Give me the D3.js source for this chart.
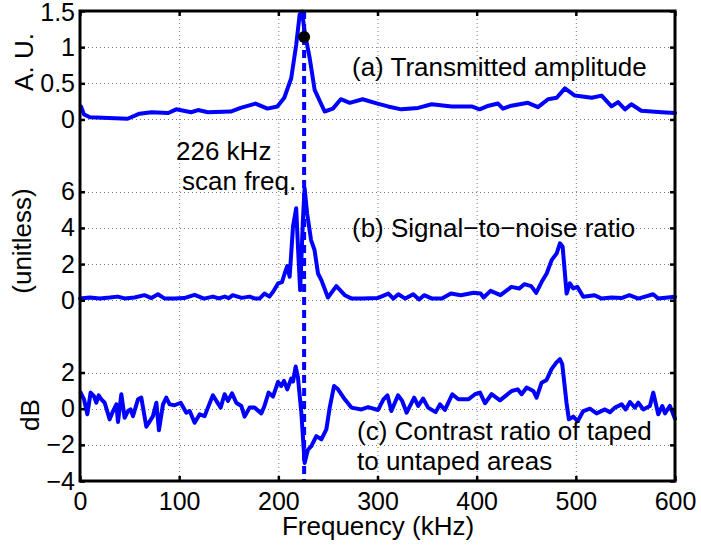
<!DOCTYPE html>
<html><head><meta charset="utf-8">
<script src="https://cdn.jsdelivr.net/npm/d3@7"></script>
<style>
html,body{margin:0;padding:0;background:#fff;}
svg{display:block;font-family:"Liberation Sans",Arial,Helvetica,sans-serif;}
</style></head>
<body><svg id="chart" width="701" height="546"></svg>
<script>
// ---- Data ----
const xTicks = [0, 100, 200, 300, 400, 500, 600];
const ampTicks = [0, 0.5, 1, 1.5];
const snrTicks = [0, 2, 4, 6];
const dbTicks = [-4, -2, 0, 2];
const scanFreq = 226;
const scanAmp = 1.14;

const ampFreq = [1,4,10,48,60,72,89,97,112,119,129,152,162,177,189,199,206,213,218,221.5,224,226.5,231.6,236.6,246.7,255,263,272,285,300,310.6,324,341,354.6,374.8,395,403,412,421.5,426.5,435,451.7,461.8,472,480.7,489,499,516,526,536,542.6,549.6,556,566,586.6,600];
const ampVals = [0.18,0.07,0.03,0.01,0.08,0.10,0.09,0.14,0.10,0.13,0.10,0.11,0.16,0.22,0.15,0.18,0.30,0.57,1.03,1.45,1.49,1.21,0.85,0.41,0.11,0.15,0.28,0.23,0.28,0.22,0.18,0.14,0.16,0.21,0.18,0.18,0.14,0.19,0.22,0.15,0.19,0.23,0.17,0.28,0.30,0.43,0.33,0.30,0.33,0.18,0.24,0.14,0.21,0.12,0.10,0.09];

const snrFreq = [0,10,20,30,38,45,55,65,72,78.6,85,95,105,115.6,125,134,140,146,150,154,163,171,176,181,186,191,194.6,199.7,203.7,206.4,209,211.4,214.8,218,219.8,222,224.8,226.5,229,233,236.5,240,243.4,250,258.5,267,274,285,300,311,316,321,328,336,342,347,355,365,374,384,397,404,407,414,424,435,443,448,455,460,465.6,470.6,475.6,480.7,484,486.7,490.7,494,497.4,501.5,507.5,519,526,536,546,554,563,578,583,600];
const snrVals = [0.09,0.15,0.1,0.15,0.2,0.1,0.15,0.28,0.12,0.33,0.1,0.1,0.12,0.3,0.09,0.2,0.1,0.2,0.12,0.28,0.13,0.2,0.1,0.09,0.37,0.2,0.46,0.93,1.0,1.48,1.89,1.3,4.07,5.09,2.96,0.56,4.44,6.2,4.81,3.33,2.78,1.48,1.11,0.15,0.78,0.28,0.09,0.09,0.12,0.37,0.09,0.33,0.09,0.33,0.04,0.28,0.09,0.09,0.37,0.28,0.41,0.37,0.15,0.52,0.28,0.74,0.65,0.89,0.78,0.41,1.02,1.48,2.22,2.59,3.15,2.96,0.37,0.93,0.65,0.74,0.19,0.28,0.09,0.15,0.12,0.28,0.09,0.33,0.09,0.19];

const dbFreq = [0.7,4,7.4,10.7,14,16.5,18.8,21.5,24.9,29.9,33.3,36.7,38.3,41.7,45,48.4,51,53.4,58.5,61.8,66.9,73.6,77,79.6,83.7,87,90.4,95.4,101.5,107.2,110.6,115.6,120.7,125.7,129,134,141.8,145.8,149.2,153.3,157.6,162.7,166,171,176,182.8,186,190.2,194.6,199.7,203,205.7,209,213,214.8,217.5,219.8,223.2,226.5,229.9,233.3,238.3,243.4,248.4,251.8,256.2,260.2,267,273.7,283.8,290.5,300.6,306,310,314,320.7,324.9,329.4,337,341,346,351,358.6,363,368,375.4,381.5,391.6,398.3,403.4,408.4,415,423.5,435.3,441.3,445.3,450.4,457.1,460.4,465.5,470.5,475.5,480.5,483.9,486.3,490.6,493,497.4,501.8,507.5,514.2,520.9,529.4,534.4,539.4,546.2,550.2,554.6,559.6,563,568,574.7,578.1,583.1,587.2,589.9,594.9,600];
const dbVals = [0.89,0.52,-0.31,0.89,0.70,0.33,0.74,0.52,0.33,-0.59,-0.13,0.24,-0.74,0.80,-0.5,-0.13,-0.04,-0.41,0.52,0.61,-1.0,-0.41,0.33,-1.19,0.24,0.61,0.24,0.19,0.33,-0.22,-0.13,-0.78,-0.31,-0.41,0.06,0.74,0.06,0.8,0.43,0.85,0.33,0.15,-0.44,0.06,0.06,-0.26,0.15,0.89,0.67,1.48,1.26,1.54,1.07,1.67,1.5,2.33,1.72,-0.22,-3.0,-2.26,-2.07,-1.52,-1.7,-1.15,0.06,1.26,1.07,0.52,0.06,-0.04,0.09,-0.07,0.52,0.74,-0.13,0.74,0.43,-0.22,0.61,0.15,0.56,0.06,-0.19,0.24,-0.07,0.8,0.52,0.52,0.8,0.89,0.3,0.8,0.46,0.98,1.07,0.8,1.17,0.98,0.61,1.44,1.59,2.19,2.56,2.74,2.46,0.33,-0.59,-0.44,-0.69,-0.13,0,-0.26,-0.04,-0.2,0.06,0.24,-0.04,0.37,0.06,0.33,-0.04,0.15,0.89,-0.31,0.15,-0.26,0.15,-0.56];

// ---- Layout ----
const W = 701, H = 546;
const L = 80, R = 675, T = 11, B = 481;
const FS = 25;     // tick labels
const FT = 26;     // other texts
const svg = d3.select("#chart");
svg.append("rect").attr("width", W).attr("height", H).attr("fill", "#fff");

const x = d3.scaleLinear().domain([0, 600]).range([L, R]);
// shared stacking scale: 13 grid steps from bottom to top
const yU = d3.scaleLinear().domain([0, 13]).range([B, T]);
const yA = d3.scaleLinear().domain([0, 1.5]).range([yU(10), yU(13)]);
const yB = d3.scaleLinear().domain([0, 6]).range([yU(5), yU(8)]);
const yC = d3.scaleLinear().domain([-4, 2]).range([yU(0), yU(3)]);

const grid = svg.append("g").attr("stroke", "#7a7a7a").attr("stroke-width", 1)
  .attr("stroke-dasharray", "1,3").attr("fill", "none");
xTicks.filter(v => v > 0 && v < 600).forEach(v => {
  grid.append("line").attr("x1", x(v) + 0.5).attr("x2", x(v) + 0.5).attr("y1", T).attr("y2", B);
});
const hGrid = [];
ampTicks.forEach(v => hGrid.push(yA(v)));
snrTicks.forEach(v => hGrid.push(yB(v)));
dbTicks.forEach(v => hGrid.push(yC(v)));
hGrid.filter(py => py > T + 1 && py < B - 1).forEach(py => {
  grid.append("line").attr("x1", L).attr("x2", R).attr("y1", Math.round(py) + 0.5).attr("y2", Math.round(py) + 0.5);
});

// ---- curves ----
function drawLine(freqs, vals, ys) {
  const pts = freqs.map((f, i) => [f, vals[i]]);
  svg.append("path").datum(pts)
    .attr("d", d3.line().x(d => x(d[0])).y(d => ys(d[1])))
    .attr("fill", "none").attr("stroke", "#0000ff").attr("stroke-width", 4)
    .attr("stroke-linejoin", "round").attr("stroke-linecap", "round");
}
drawLine(ampFreq, ampVals, yA);
drawLine(snrFreq, snrVals, yB);
drawLine(dbFreq, dbVals, yC);

svg.append("line").attr("x1", x(scanFreq)).attr("x2", x(scanFreq))
  .attr("y1", T).attr("y2", B)
  .attr("stroke", "#0000ff").attr("stroke-width", 4).attr("stroke-dasharray", "8,5");
svg.append("circle").attr("cx", x(scanFreq)).attr("cy", yA(scanAmp)).attr("r", 6).attr("fill", "#000");

// ---- axes ----
function styleAxis(g) {
  g.select(".domain").remove();
  g.selectAll(".tick line").attr("stroke", "#000").attr("stroke-width", 2.5);
  g.selectAll(".tick text").attr("fill", "#000").style("font-size", FS + "px")
    .style("font-family", '"Liberation Sans",Arial,Helvetica,sans-serif');
}
const fmt = d3.format("~g");
[[yA, ampTicks], [yB, snrTicks], [yC, dbTicks]].forEach(([s, tv]) => {
  svg.append("g").attr("transform", `translate(${L},0)`)
    .call(d3.axisLeft(s).tickValues(tv).tickFormat(fmt).tickSize(-5).tickPadding(5))
    .call(styleAxis);
  svg.append("g").attr("transform", `translate(${R},0)`)
    .call(d3.axisRight(s).tickValues(tv).tickSize(-5).tickFormat(""))
    .call(styleAxis);
});
// keep the top "1.5" label inside the picture
svg.selectAll(".tick text").filter(function() { return this.textContent === "1.5"; }).attr("dy", "0.36em");
svg.append("g").attr("transform", `translate(0,${B})`)
  .call(d3.axisBottom(x).tickValues(xTicks).tickFormat(fmt).tickSize(-5).tickPadding(11))
  .call(styleAxis);
svg.append("g").attr("transform", `translate(0,${T})`)
  .call(d3.axisTop(x).tickValues(xTicks).tickSize(-5).tickFormat(""))
  .call(styleAxis);

svg.append("rect").attr("x", L).attr("y", T).attr("width", R - L).attr("height", B - T)
  .attr("fill", "none").attr("stroke", "#000").attr("stroke-width", 3);

// ---- text ----
function txt(s, px, py, opts = {}) {
  const t = svg.append("text").attr("x", px).attr("y", py).text(s)
    .attr("fill", "#000").style("font-size", FT + "px");
  if (opts.anchor) t.attr("text-anchor", opts.anchor);
  if (opts.rot) t.attr("transform", `rotate(-90,${px},${py})`);
  return t;
}
txt("A. U.", 33, 62, {anchor: "middle", rot: true});
txt("(unitless)", 30.5, 241, {anchor: "middle", rot: true});
txt("dB", 39, 415, {anchor: "middle", rot: true});
txt("Frequency (kHz)", 378, 535, {anchor: "middle"});
txt("226 kHz", 176, 160);
txt("scan freq.", 182, 190);
txt("(a) Transmitted amplitude", 352, 76);
txt("(b) Signal\u2212to\u2212noise ratio", 352, 237);
txt("(c) Contrast ratio of taped", 357, 440);
txt("to untaped areas", 357, 470);
</script></body></html>
